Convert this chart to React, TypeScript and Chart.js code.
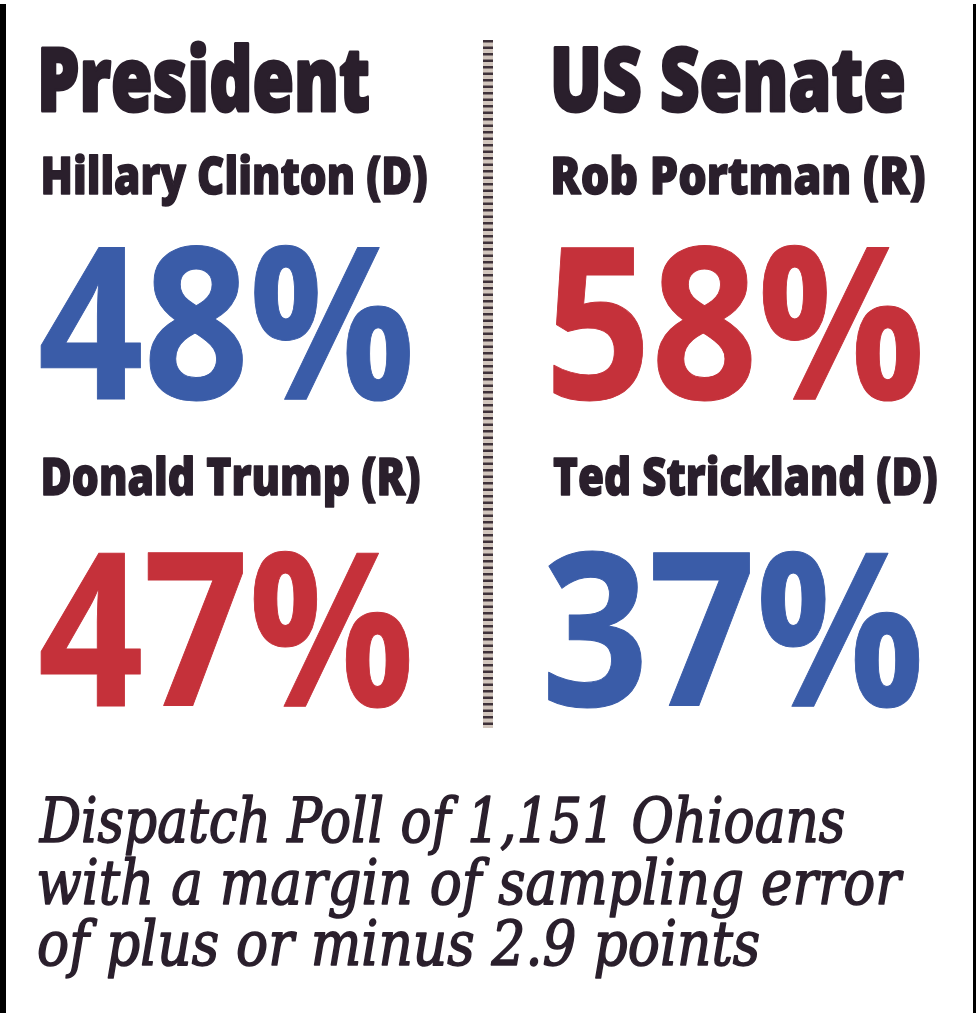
import React, { useEffect, useRef } from "react";
import { Chart, registerables } from "chart.js";

Chart.register(...registerables);

// ---------- data ----------
const races = ["President", "US Senate"];
const firstCandidates = ["Hillary Clinton (D)", "Rob Portman (R)"];
const firstParties = ["D", "R"];
const firstValues = [48, 58];
const secondCandidates = ["Donald Trump (R)", "Ted Strickland (D)"];
const secondParties = ["R", "D"];
const secondValues = [47, 37];
const footnoteLines = [
  "Dispatch Poll of 1,151 Ohioans",
  "with a margin of sampling error",
  "of plus or minus 2.9 points",
];

// ---------- style ----------
const partyColors: Record<string, string> = { D: "#3a5ca8", R: "#c5313a" };
const inkColor = "#2a1f2c";
const sansFamily = "'Open Sans', 'DejaVu Sans', sans-serif";
const serifFamily = "'DejaVu Serif', 'Liberation Serif', serif";

// per-column geometry (widths of text blocks)
const headWidths = [330, 352];
const name1Widths = [384, 372];
const name2Widths = [377, 384];
const val1Widths = [370, 367];
const val2Widths = [370, 372];
const footWidths = [807, 867, 722];

function drawFit(
  ctx: CanvasRenderingContext2D,
  text: string,
  x: number,
  baseline: number,
  capH: number,
  width: number,
  font: string,
  color: string,
  refText: string,
  strokeW: number
) {
  ctx.save();
  ctx.font = font.replace("SIZE", "100px");
  const ref = ctx.measureText(refText || text).actualBoundingBoxAscent / 100;
  const size = (capH - strokeW) / ref;
  ctx.font = font.replace("SIZE", size.toFixed(2) + "px");
  const m = ctx.measureText(text);
  const w = m.actualBoundingBoxLeft + m.actualBoundingBoxRight;
  const sx = (width - strokeW) / w;
  ctx.translate(x + strokeW / 2, baseline - strokeW / 2);
  ctx.scale(sx, 1);
  ctx.fillStyle = color;
  ctx.strokeStyle = color;
  ctx.lineJoin = "round";
  ctx.lineWidth = strokeW;
  ctx.textAlign = "left";
  ctx.textBaseline = "alphabetic";
  ctx.fillText(text, m.actualBoundingBoxLeft, 0);
  if (strokeW > 0) ctx.strokeText(text, m.actualBoundingBoxLeft, 0);
  ctx.restore();
}

const infographicPlugin = {
  id: "infographic",
  beforeDraw(chart: any) {
    const ctx: CanvasRenderingContext2D = chart.ctx;
    ctx.save();
    ctx.fillStyle = "#ffffff";
    ctx.fillRect(0, 0, chart.width, chart.height);
    ctx.fillStyle = "#000000";
    ctx.fillRect(0, 4, 6, 1009);
    ctx.fillRect(973, 4, 3, 1009);
    ctx.restore();
  },
  afterDraw(chart: any) {
    const ctx: CanvasRenderingContext2D = chart.ctx;
    const xs = chart.scales.x;
    const boldFont = `800 SIZE ${sansFamily}`;
    const numFont = `700 SIZE ${sansFamily}`;
    races.forEach((race, i) => {
      const x = xs.getPixelForValue(i);
      drawFit(ctx, race, x, 112, 67, headWidths[i], boldFont, inkColor, "P", 3);
      drawFit(ctx, firstCandidates[i], x + (i === 0 ? 3 : 0), 195, 39, name1Widths[i], boldFont, inkColor, "H", 1.5);
      drawFit(ctx, firstValues[i] + "%", x, 399, 154, val1Widths[i], numFont, partyColors[firstParties[i]], "4", 1);
      drawFit(ctx, secondCandidates[i], x + (i === 0 ? 3 : 0), 496, 39, name2Widths[i], boldFont, inkColor, "H", 1.5);
      drawFit(ctx, secondValues[i] + "%", x + (i === 0 ? 0 : -5), 706, 155, val2Widths[i], numFont, partyColors[secondParties[i]], "4", 1);
    });
    // divider
    ctx.save();
    ctx.strokeStyle = "#d2c6bd";
    ctx.lineWidth = 10;
    ctx.beginPath();
    ctx.moveTo(488, 40);
    ctx.lineTo(488, 728);
    ctx.stroke();
    ctx.strokeStyle = "#3e3139";
    ctx.lineWidth = 10;
    ctx.setLineDash([2.5, 4]);
    ctx.beginPath();
    ctx.moveTo(488, 40);
    ctx.lineTo(488, 728);
    ctx.stroke();
    ctx.restore();
    // footnote
    const serifFont = `italic 400 SIZE ${serifFamily}`;
    const baselines = [843, 905, 966];
    footnoteLines.forEach((line, k) => {
      drawFit(ctx, line, 38, baselines[k], 46, footWidths[k], serifFont, inkColor, "D", 1.6);
    });
  },
};

export default function App() {
  const ref = useRef<HTMLCanvasElement>(null);
  useEffect(() => {
    if (!ref.current) return;
    const chart = new Chart(ref.current, {
      type: "bar",
      data: {
        labels: races,
        datasets: [
          { label: "First", data: firstValues, backgroundColor: "rgba(0,0,0,0)" },
          { label: "Second", data: secondValues, backgroundColor: "rgba(0,0,0,0)" },
        ],
      },
      options: {
        animation: false,
        responsive: true,
        maintainAspectRatio: false,
        layout: { padding: { left: 40, right: 423, top: 0, bottom: 0 } },
        scales: {
          x: { type: "category", offset: false, display: false },
          y: { display: false, min: 0, max: 100 },
        },
        plugins: { legend: { display: false }, tooltip: { enabled: false } },
      },
      plugins: [infographicPlugin],
    });
    return () => chart.destroy();
  }, []);
  return (
    <div style={{ position: "absolute", left: 0, top: 0, width: 976, height: 1020 }}>
      <canvas ref={ref} />
    </div>
  );
}
